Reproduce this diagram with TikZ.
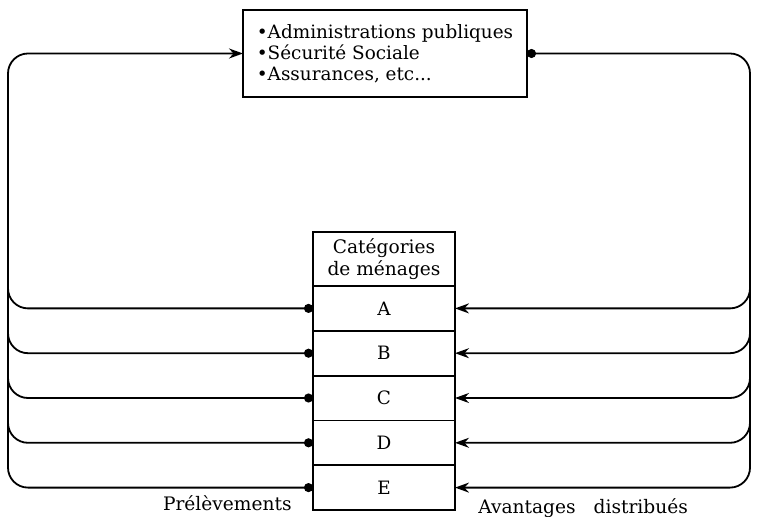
\documentclass[tikz,border=0pt]{standalone}
\usepackage{fontspec}
\setmainfont{DejaVu Serif}
\usetikzlibrary{arrows.meta,calc}
\begin{document}
\begin{tikzpicture}[x=0.5pt,y=-0.5pt,
  box/.style={draw, line width=0.9pt, inner sep=0pt, outer sep=0pt},
  cell/.style={box, minimum width=71pt, minimum height=22.4pt, font=\fontsize{9.2}{11}\selectfont},
  flow/.style={line width=0.9pt, rounded corners=10pt},
  tipend/.style={-{Stealth[length=7pt,width=5pt]}},
  dotstart/.style={{Circle[length=4.5pt]}-},
  dotboth/.style={{Circle[length=4.5pt]}-{Stealth[length=7pt,width=5pt]}},
  lab/.style={font=\fontsize{9.3}{11}\selectfont, inner sep=0pt}]
\useasboundingbox (0,0) rectangle (758,517);
\coordinate (lt) at (8,0);
\coordinate (rt) at (750,0);
\node[box, minimum width=142pt, minimum height=43.5pt, anchor=north west,
      align=left, font=\fontsize{9.2}{10.5}\selectfont] (adm) at (243,10)
  {•Administrations publiques\\•Sécurité Sociale\\•Assurances, etc...};
\node[box, minimum width=71pt, minimum height=27pt, anchor=north west,
      align=center, font=\fontsize{9.3}{11}\selectfont] (hdr) at (313,232)
  {Catégories\\de ménages};
\node[cell, anchor=north] (A) at (hdr.south) {A};
\node[cell, anchor=north] (B) at (A.south) {B};
\node[cell, anchor=north] (C) at (B.south) {C};
\node[cell, anchor=north] (D) at (C.south) {D};
\node[cell, anchor=north] (E) at (D.south) {E};
% left side: prelevements
\draw[flow, dotboth] (E.west) -| (lt |- adm.west) -- (adm.west);
\foreach \r in {A,B,C,D}
  \draw[flow, dotstart] (\r.west) -| ($(lt |- \r.west)+(0,-30)$);
% right side: avantages
\draw[flow, dotboth] (adm.east) -| (rt |- E.east) -- (E.east);
\foreach \r in {A,B,C,D}
  \draw[flow, tipend] ($(rt |- \r.east)+(0,-30)$) |- (\r.east);
\node[lab, anchor=east] (prel) at (292,503) {Prélèvements};
\node[lab, anchor=west] (avant) at (478,508) {Avantages\hspace{9pt}distribués};
\end{tikzpicture}
\end{document}
